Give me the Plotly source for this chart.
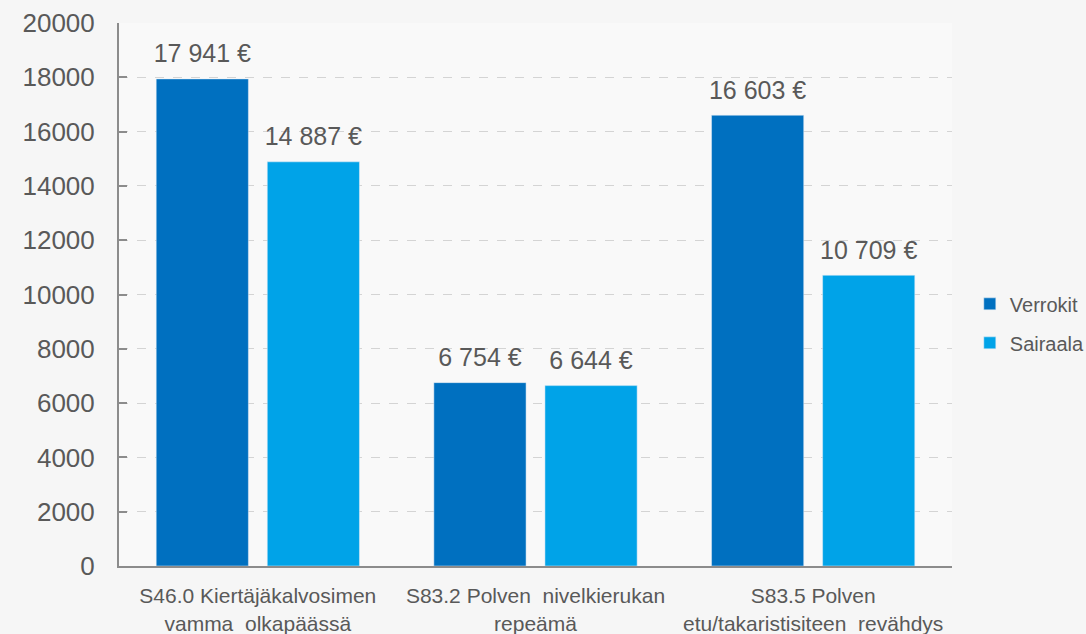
import plotly.graph_objects as go

categories = ["S46.0 Kiertäjäkalvosimen<br>vamma  olkapäässä",
              "S83.2 Polven  nivelkierukan<br>repeämä",
              "S83.5 Polven<br>etu/takaristisiteen  revähdys"]
verrokit = [17941, 6754, 16603]
sairaala = [14887, 6644, 10709]
y_ticks = [0, 2000, 4000, 6000, 8000, 10000, 12000, 14000, 16000, 18000, 20000]

txt = "#595959"
series = [("Verrokit", verrokit, "#0070C0"), ("Sairaala", sairaala, "#00A3E8")]
fig = go.Figure()
for name, vals, col in series:
    fig.add_bar(name=name, x=categories, y=vals, marker_color=col,
                legendgroup=name, offsetgroup=name, alignmentgroup="g")
for name, vals, col in series:
    fig.add_scatter(x=categories, y=vals, mode="markers+text",
                    texttemplate="%{y:,} €", textposition="top center",
                    textfont=dict(size=25, color=txt),
                    marker=dict(size=15, opacity=0), showlegend=False,
                    hoverinfo="skip", cliponaxis=False,
                    offsetgroup=name, alignmentgroup="g")

fig.update_layout(
    width=1086, height=634,
    margin=dict(l=119, r=134, t=23, b=68),
    paper_bgcolor="#f6f6f6", plot_bgcolor="#f9f9f9",
    separators=". ",
    barmode="group", bargap=0.2, bargroupgap=0.17,
    scattermode="group", scattergap=0.2,
    font=dict(family="Liberation Sans, Arial, sans-serif", color=txt),
    legend=dict(xref="container", yref="container",
                x=0.893, xanchor="left", y=0.49, yanchor="middle",
                font=dict(size=20, color=txt), itemwidth=30,
                traceorder="grouped", tracegroupgap=10,
                bgcolor="rgba(0,0,0,0)"),
    showlegend=True,
)
fig.update_yaxes(range=[0, 20000], tickvals=y_ticks, tickformat="d",
                 tickfont=dict(size=26, color=txt), automargin=False,
                 showgrid=True, gridcolor="#d4d4d4", griddash="dash", gridwidth=1,
                 showline=True, linecolor="#8c8c8c", linewidth=2,
                 ticks="inside", ticklen=8, tickcolor="#8c8c8c", tickwidth=2,
                 zeroline=False, ticklabelstandoff=17)
fig.update_xaxes(showline=True, linecolor="#8c8c8c", linewidth=2, automargin=False,
                 tickfont=dict(size=21, color=txt),
                 ticklabelstandoff=10)

fig.write_html("out.html", config={"displayModeBar": False},
               post_script="document.body.style.margin='0';")
